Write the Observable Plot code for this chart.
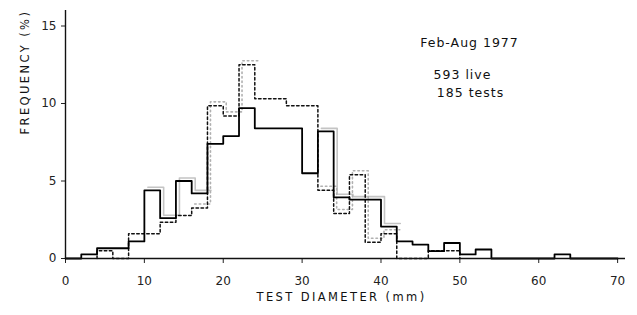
<!DOCTYPE html>
<html><head><meta charset="utf-8">
<script src="https://cdn.jsdelivr.net/npm/d3@7"></script>
<script src="https://cdn.jsdelivr.net/npm/@observablehq/plot@0.6"></script>
<style>
html,body{margin:0;padding:0;background:#fff;}
#chart svg{display:block;}
</style>
</head><body><div id="chart"></div>
<script>
// Bin edges (mm) — 2 mm classes
const binEdges = [0,2,4,6,8,10,12,14,16,18,20,22,24,26,28,30,32,34,36,38,40,42,44,46,48,50,52,54,56,58,60,62,64,66,68,70];
// Solid histogram (593 live), % per bin
const livePct = [0,0.26,0.66,0.66,1.1,4.4,2.6,5.0,4.2,7.4,7.9,9.7,8.4,8.4,8.4,5.5,8.2,3.95,3.8,3.8,2.06,1.1,0.9,0.47,1.0,0.26,0.58,0,0,0,0,0.26,0,0,0];
// Dashed histogram (185 tests), % per bin (null = not drawn)
const testsPct = [null,null,0.5,0,1.6,1.6,2.34,2.77,3.26,9.85,9.2,12.5,10.3,10.3,9.85,9.85,4.4,2.9,5.4,1.05,1.6,0,0,0.5,0.5,null,null,null,null,null,null,null,null,null,null];
const xTicks = [0,10,20,30,40,50,60,70];
const yTicks = [0,5,10,15];
const noteLines = ["Feb-Aug 1977","593 live","185 tests"];
const xTitle = "TEST DIAMETER (mm)";
const yTitle = "FREQUENCY (%)";

// Build step-after points for a histogram run
function stepRun(values, from, to, baseline, run) {
  const pts = [];
  if (baseline) pts.push({x: binEdges[from], y: 0, run});
  for (let i = from; i <= to; i++) pts.push({x: binEdges[i], y: values[i], run});
  pts.push({x: binEdges[to + 1], y: baseline ? 0 : values[to], run});
  return pts;
}
function runBounds(values) {
  let a = values.findIndex(v => v != null);
  let b = values.length - 1; while (values[b] == null) b--;
  return [a, b];
}
const [la, lb] = runBounds(livePct);
const [ta, tb] = runBounds(testsPct);
const liveLine = stepRun(livePct, la, lb, true, 0);
const testsLine = stepRun(testsPct, ta, tb, true, 0);
// faint misregistered print (grey ghost) where it shows in the scan
const liveGhost = [...stepRun(livePct, 5, 8, false, 1), ...stepRun(livePct, 16, 20, false, 2)];
const testsGhost = [...stepRun(testsPct, 8, 11, false, 1), ...stepRun(testsPct, 16, 20, false, 2)];

const chart = Plot.plot({
  width: 637,
  height: 315,
  marginLeft: 65,
  marginRight: 12,
  marginTop: 10,
  marginBottom: 57,
  style: {fontFamily: "DejaVu Sans", fontSize: "12px", color: "#222", background: "#fff"},
  x: {domain: [0, 71], ticks: xTicks, tickSize: 5, tickPadding: 13, label: null},
  y: {domain: [0, 16], ticks: yTicks, tickSize: 4, tickPadding: 5, label: null},
  marks: [
    Plot.lineY(liveGhost, {x: "x", y: "y", z: "run", curve: "step-after", stroke: "#c4c4c4", strokeWidth: 1.6, dx: 3.5, dy: -3}),
    Plot.lineY(testsGhost, {x: "x", y: "y", z: "run", curve: "step-after", stroke: "#b0b0b0", strokeWidth: 1.6, strokeDasharray: "1.5,3", dx: 3, dy: -4}),
    Plot.lineY(testsLine, {x: "x", y: "y", curve: "step-after", stroke: "#111", strokeWidth: 1.5, strokeDasharray: "2.5,2.5"}),
    Plot.lineY(liveLine, {x: "x", y: "y", curve: "step-after", stroke: "#000", strokeWidth: 1.8}),
    Plot.ruleX([0], {stroke: "#111", strokeWidth: 1.4}),
    Plot.ruleY([0], {stroke: "#111", strokeWidth: 1.4}),
    Plot.text([noteLines[0]], {frameAnchor: "top-left", textAnchor: "middle", lineAnchor: "middle", dx: 404, dy: 32, fontSize: 12.5, fill: "#111"}),
    Plot.text([noteLines[1]], {frameAnchor: "top-left", textAnchor: "middle", lineAnchor: "middle", dx: 397, dy: 64, fontSize: 12.5, fill: "#111"}),
    Plot.text([noteLines[2]], {frameAnchor: "top-left", textAnchor: "middle", lineAnchor: "middle", dx: 405, dy: 82, fontSize: 12.5, fill: "#111"}),
    Plot.text([xTitle], {frameAnchor: "bottom", lineAnchor: "middle", dx: -4, dy: 39, fontSize: 11.5, fill: "#111"}),
    Plot.text([yTitle], {frameAnchor: "left", lineAnchor: "middle", rotate: -90, dx: -40, dy: 0, fontSize: 11.5, fill: "#111"})
  ]
});
document.getElementById("chart").appendChild(chart);
// letter spacing for lettering-style labels
chart.querySelectorAll("text").forEach(t => {
  const s = t.textContent;
  if (s === xTitle || s === yTitle) t.style.letterSpacing = "2.4px";
  else if (noteLines.includes(s)) t.style.letterSpacing = "1px";
});
</script>
</body></html>
